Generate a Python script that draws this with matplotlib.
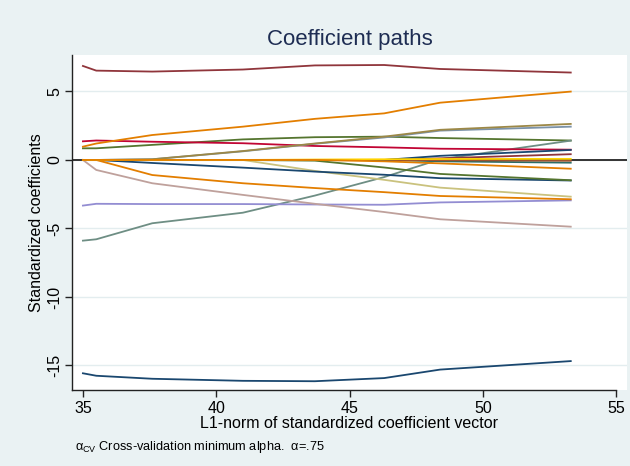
import matplotlib
matplotlib.use('Agg')
import matplotlib.pyplot as plt

plt.rcParams['font.family'] = ['Liberation Sans', 'DejaVu Sans']
plt.rcParams['mathtext.default'] = 'regular'

# L1-norm knots (x) and coefficient values at each knot
l1norm = [35.0, 35.5, 37.6, 41.0, 43.7, 46.3, 48.4, 53.3]

coef_maroon_top = [6.86, 6.52, 6.45, 6.6, 6.9, 6.93, 6.64, 6.38]
coef_orange_up = [0.97, 1.2, 1.82, 2.43, 3.0, 3.4, 4.18, 4.99]
coef_cranberry = [1.36, 1.42, 1.33, 1.22, 1.02, 0.92, 0.82, 0.75]
coef_forest_up = [0.85, 0.85, 1.1, 1.5, 1.66, 1.7, 1.6, 1.42]
coef_emidblue = [0, 0, 0.05, 0.63, 1.18, 1.64, 2.14, 2.43]
coef_brown = [0, 0, 0.05, 0.65, 1.2, 1.7, 2.2, 2.63]
coef_navy_down = [0, 0, -0.22, -0.56, -0.85, -1.08, -1.33, -1.5]
coef_forest_down = [0, 0, 0, 0, -0.05, -0.55, -1.02, -1.48]
coef_khaki = [0, 0, 0, 0, -0.8, -1.45, -2.02, -2.68]
coef_orange_down = [0, 0, -1.1, -1.7, -2.05, -2.35, -2.63, -2.87]
coef_lavender = [-3.33, -3.2, -3.22, -3.22, -3.25, -3.27, -3.1, -2.95]
coef_erose = [0, -0.73, -1.7, -2.55, -3.2, -3.8, -4.33, -4.87]
coef_teal = [-5.89, -5.79, -4.62, -3.85, -2.6, -1.25, 0.05, 1.41]
coef_navy_bottom = [-15.57, -15.75, -15.97, -16.12, -16.15, -15.92, -15.3, -14.68]
coef_navy_up = [0, 0, 0, 0, 0, 0, 0.3, 0.73]
coef_maroon_mid = [0, 0, 0, 0, 0, 0, 0.12, 0.42]
coef_gold = [0, 0, 0, 0, 0.03, 0.05, 0.07, 0.08]
coef_sienna = [0, 0, 0, 0, 0, 0, -0.02, -0.06]
coef_emerald = [0, 0, 0, 0, 0, 0, -0.1, -0.2]
coef_orange_zero = [0, 0, 0, 0, 0, -0.1, -0.25, -0.64]

xticks = [35, 40, 45, 50, 55]
yticks = [-15, -10, -5, 0, 5]

paths = [
    (coef_navy_bottom, '#1a476f'),
    (coef_maroon_top, '#90353b'),
    (coef_forest_up, '#55752f'),
    (coef_teal, '#6e8e84'),
    (coef_cranberry, '#c10534'),
    (coef_lavender, '#938dd2'),
    (coef_khaki, '#cac27e'),
    (coef_emidblue, '#7b92a8'),
    (coef_brown, '#9c8847'),
    (coef_erose, '#bfa19c'),
    (coef_navy_down, '#1a476f'),
    (coef_forest_down, '#55752f'),
    (coef_orange_down, '#e37e00'),
    (coef_orange_up, '#e37e00'),
    (coef_emerald, '#2d6d66'),
    (coef_sienna, '#a0522d'),
    (coef_maroon_mid, '#90353b'),
    (coef_navy_up, '#1a476f'),
    (coef_gold, '#ffd200'),
    (coef_orange_zero, '#e37e00'),
]

bg = '#eaf2f3'
fig = plt.figure(figsize=(6.3, 4.66), dpi=100, facecolor=bg)
ax = fig.add_axes([72 / 630, 1 - 390 / 466, 555 / 630, 335 / 466])
ax.set_facecolor('white')

for vals, col in paths:
    ax.plot(l1norm, vals, color=col, lw=1.3, zorder=3)

ax.axhline(0, color='#333333', lw=1.4, zorder=2)

ax.set_xlim(34.59, 55.41)
ax.set_ylim(-16.79, 7.66)
ax.set_xticks(xticks)
ax.set_yticks(yticks)
ax.set_yticklabels([str(v) for v in yticks], rotation=90, va='center')
ax.yaxis.grid(True, color='#e3edef', lw=1.0, zorder=1)
ax.set_axisbelow(True)

for s in ['top', 'right']:
    ax.spines[s].set_visible(False)
for s in ['left', 'bottom']:
    ax.spines[s].set_color('#222222')
    ax.spines[s].set_linewidth(1.0)
ax.spines['bottom'].set_bounds(34.59, 55)

ax.tick_params(axis='both', direction='out', length=5, width=1.0,
               color='#222222', labelsize=11.5, labelcolor='black')
ax.tick_params(axis='x', pad=3)
ax.tick_params(axis='y', pad=2)

ax.set_xlabel('L1-norm of standardized coefficient vector', fontsize=11.5, labelpad=0)
ax.set_ylabel('Standardized coefficients', fontsize=11.5, labelpad=2)

fig.text(349.5 / 630, 1 - 40 / 466, 'Coefficient paths', ha='center', va='center',
         fontsize=16, color='#1e2d53')
fig.text(75 / 630, 1 - 447 / 466,
         r'$\alpha_{CV}$ Cross-validation minimum alpha.  α=.75',
         ha='left', va='center', fontsize=9.2)

fig.savefig('out.png', dpi=100, facecolor=bg)
